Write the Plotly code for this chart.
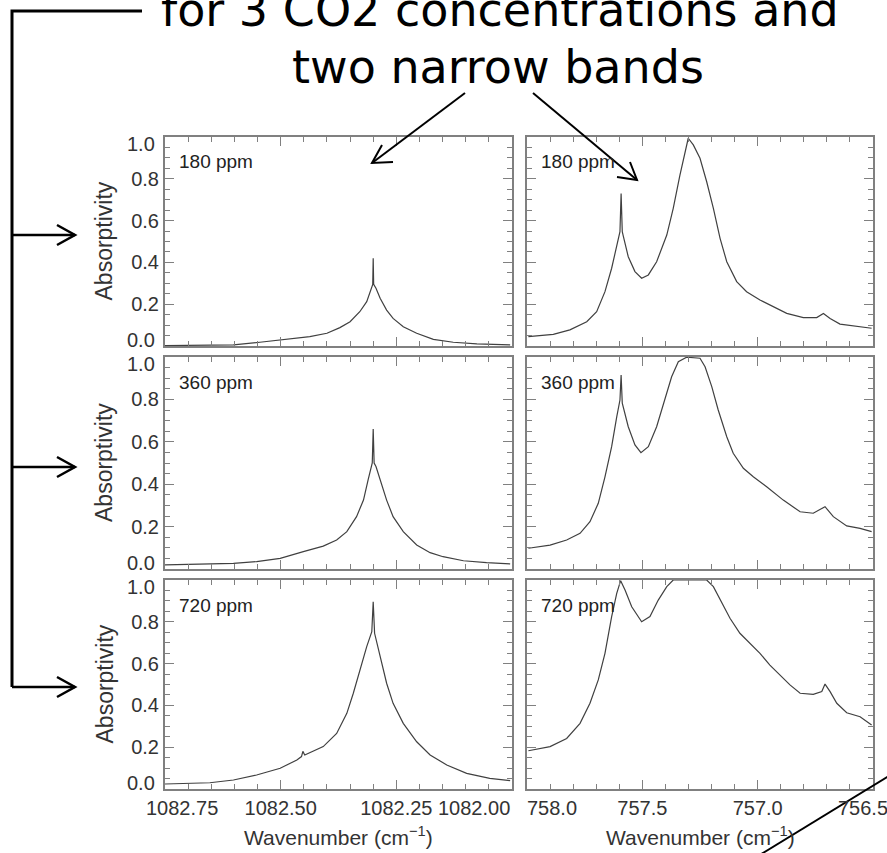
import plotly.graph_objects as go

W, H = 887, 853

# ---------------- data ----------------
wn_left_180 = [1082.75, 1082.602, 1082.545, 1082.473, 1082.437, 1082.40, 1082.372, 1082.350,
               1082.329, 1082.314, 1082.303, 1082.301, 1082.300, 1082.299, 1082.294, 1082.285,
               1082.271, 1082.257, 1082.235, 1082.206, 1082.170, 1082.127, 1082.076, 1082.004]
ab_left_180 = [0.002, 0.005, 0.018, 0.037, 0.045, 0.061, 0.088, 0.116,
               0.164, 0.212, 0.276, 0.295, 0.42, 0.295, 0.276, 0.228,
               0.172, 0.132, 0.092, 0.061, 0.032, 0.018, 0.010, 0.005]

wn_left_360 = [1082.75, 1082.602, 1082.552, 1082.501, 1082.451, 1082.408, 1082.379, 1082.357,
               1082.336, 1082.321, 1082.311, 1082.302, 1082.300, 1082.298, 1082.294, 1082.285,
               1082.271, 1082.257, 1082.235, 1082.206, 1082.177, 1082.149, 1082.105, 1082.055,
               1082.004]
ab_left_360 = [0.019, 0.027, 0.035, 0.050, 0.082, 0.108, 0.137, 0.176,
               0.247, 0.325, 0.42, 0.50, 0.66, 0.50, 0.483, 0.42,
               0.325, 0.247, 0.176, 0.113, 0.077, 0.058, 0.039, 0.030,
               0.024]

wn_left_720 = [1082.75, 1082.653, 1082.602, 1082.552, 1082.501, 1082.465, 1082.455, 1082.452,
               1082.448, 1082.408, 1082.379, 1082.357, 1082.343, 1082.329, 1082.314, 1082.303,
               1082.300, 1082.297, 1082.285, 1082.271, 1082.257, 1082.235, 1082.206, 1082.177,
               1082.141, 1082.098, 1082.048, 1082.004]
ab_left_720 = [0.024, 0.030, 0.043, 0.067, 0.099, 0.139, 0.155, 0.18,
               0.163, 0.203, 0.266, 0.362, 0.458, 0.569, 0.681, 0.753,
               0.896, 0.745, 0.633, 0.506, 0.41, 0.314, 0.226, 0.163,
               0.115, 0.075, 0.051, 0.04]

wn_right_180 = [757.994, 757.886, 757.814, 757.741, 757.698, 757.662, 757.633, 757.611, 757.597,
                757.592, 757.587, 757.582, 757.561, 757.532, 757.503, 757.474, 757.438, 757.394,
                757.366, 757.337, 757.301, 757.279, 757.25, 757.221, 757.192, 757.163, 757.134,
                757.091, 757.048, 756.99, 756.932, 756.874, 756.802, 756.744, 756.715, 756.686,
                756.643, 756.585, 756.506]
ab_right_180 = [0.045, 0.056, 0.077, 0.116, 0.164, 0.26, 0.372, 0.483, 0.547,
                0.73, 0.547, 0.523, 0.427, 0.356, 0.324, 0.34, 0.403, 0.531,
                0.659, 0.818, 0.994, 0.962, 0.898, 0.786, 0.659, 0.515, 0.403,
                0.308, 0.26, 0.22, 0.188, 0.156, 0.136, 0.136, 0.156, 0.132,
                0.105, 0.096, 0.085]

wn_right_360 = [757.994, 757.90, 757.828, 757.77, 757.727, 757.691, 757.662, 757.633, 757.611,
                757.597, 757.592, 757.587, 757.561, 757.532, 757.506, 757.474, 757.438, 757.402,
                757.373, 757.344, 757.308, 757.25, 757.228, 757.199, 757.171, 757.134, 757.106,
                757.062, 757.019, 756.961, 756.889, 756.816, 756.759, 756.708, 756.672, 756.614,
                756.556, 756.506]
ab_right_360 = [0.098, 0.113, 0.137, 0.168, 0.223, 0.31, 0.435, 0.577, 0.718,
                0.797, 0.915, 0.782, 0.671, 0.585, 0.549, 0.577, 0.671, 0.797,
                0.907, 0.978, 0.999, 0.994, 0.954, 0.86, 0.75, 0.624, 0.546,
                0.475, 0.435, 0.388, 0.325, 0.27, 0.263, 0.294, 0.247, 0.203,
                0.192, 0.176]

wn_right_720 = [757.994, 757.90, 757.828, 757.77, 757.727, 757.691, 757.662, 757.633, 757.611,
                757.594, 757.575, 757.546, 757.503, 757.467, 757.431, 757.394, 757.366, 757.221,
                757.192, 757.163, 757.12, 757.077, 757.033, 756.99, 756.947, 756.903, 756.86,
                756.816, 756.759, 756.722, 756.708, 756.686, 756.657, 756.614, 756.556, 756.506]
ab_right_720 = [0.183, 0.203, 0.242, 0.314, 0.41, 0.522, 0.649, 0.825, 0.936,
                0.997, 0.952, 0.872, 0.80, 0.825, 0.904, 0.968, 1.0, 1.0,
                0.968, 0.904, 0.817, 0.745, 0.697, 0.649, 0.593, 0.545, 0.498,
                0.458, 0.453, 0.466, 0.502, 0.466, 0.41, 0.365, 0.346, 0.306]

concentrations = ["180 ppm", "360 ppm", "720 ppm"]
left_ticks = [1082.75, 1082.50, 1082.25, 1082.00]
left_ticktext = ["1082.75", "1082.50", "1082.25", "1082.00"]
right_ticks = [758.0, 757.5, 757.0, 756.5]
right_ticktext = ["758.0", "757.5", "757.0", "756.5"]
y_ticks = [0.0, 0.2, 0.4, 0.6, 0.8, 1.0]
y_ticktext = ["0.0", "0.2", "0.4", "0.6", "0.8", "1.0"]

series = [
    (wn_left_180, ab_left_180, wn_right_180, ab_right_180),
    (wn_left_360, ab_left_360, wn_right_360, ab_right_360),
    (wn_left_720, ab_left_720, wn_right_720, ab_right_720),
]

# ---------------- layout geometry (pixels) ----------------
col_px = [(165, 512), (527, 873)]
row_px = [(137, 346), (357, 569), (580, 789)]


def fx(x):
    return x / W


def fy(y):
    return 1 - y / H


TXT = "Liberation Sans, Arial, sans-serif"
FRAME = "#808080"
LINE = "#404040"
TCOL = "#333333"

fig = go.Figure()
layout = dict(
    width=W, height=H, margin=dict(l=0, r=0, t=0, b=0),
    paper_bgcolor="white", plot_bgcolor="white", showlegend=False,
    font=dict(family=TXT, size=20, color=TCOL),
)
annotations = []
shapes = []

for r in range(3):
    for c in range(2):
        k = r * 2 + c + 1
        xa = "x" if k == 1 else f"x{k}"
        ya = "y" if k == 1 else f"y{k}"
        xkey = "xaxis" if k == 1 else f"xaxis{k}"
        ykey = "yaxis" if k == 1 else f"yaxis{k}"
        wn, ab = (series[r][0], series[r][1]) if c == 0 else (series[r][2], series[r][3])
        fig.add_trace(go.Scatter(x=wn, y=ab, mode="lines", xaxis=xa, yaxis=ya,
                                 line=dict(color=LINE, width=1.2), hoverinfo="skip"))
        x0, x1 = col_px[c]
        y0, y1 = row_px[r]
        if c == 0:
            xr = [left_ticks[0], left_ticks[-1]]
            tv, tt = left_ticks, left_ticktext
            minor_dt, tick0 = 0.05, 1082.0
        else:
            xr = [right_ticks[0], right_ticks[-1]]
            tv, tt = right_ticks, right_ticktext
            minor_dt, tick0 = 0.1, 756.5
        bottom = (r == 2)
        layout[xkey] = dict(
            domain=[fx(x0), fx(x1)], range=xr, anchor=ya, automargin=False,
            tickmode="array", tickvals=tv[1:3], ticktext=tt[1:3],
            showticklabels=bottom, ticks="inside", ticklen=9, tickwidth=1, tickcolor=FRAME,
            minor=dict(tickmode="linear", tick0=tick0, dtick=minor_dt, ticks="inside",
                       ticklen=5, tickwidth=1, tickcolor=FRAME),
            showline=True, linecolor=FRAME, linewidth=2, mirror="allticks",
            showgrid=False, zeroline=False, tickfont=dict(size=20, color=TCOL),
        )
        layout[ykey] = dict(
            domain=[fy(y1), fy(y0)], range=[0, 1.0], anchor=xa, automargin=False,
            tickmode="array", tickvals=y_ticks[1:5], ticktext=y_ticktext[1:5],
            showticklabels=(c == 0), ticks="inside", ticklen=9, tickwidth=1, tickcolor=FRAME,
            minor=dict(tickmode="linear", tick0=0, dtick=0.05, ticks="inside",
                       ticklen=5, tickwidth=1, tickcolor=FRAME),
            showline=True, linecolor=FRAME, linewidth=2, mirror="allticks",
            showgrid=False, zeroline=False, tickfont=dict(size=20, color=TCOL),
        )
        # concentration label inside panel
        annotations.append(dict(text=concentrations[r], xref=f"{xa} domain", yref=f"{ya} domain",
                                x=0, y=1, xshift=12, yshift=-25, xanchor="left", yanchor="middle",
                                showarrow=False, font=dict(size=19, color="#222222")))
        if c == 0:
            # end labels of the y axis, nudged inward as in the original
            annotations.append(dict(text=y_ticktext[-1], xref="paper", yref=ya, x=fx(157), y=1.0,
                                    yshift=-7, xanchor="right", yanchor="middle", showarrow=False,
                                    font=dict(size=20, color=TCOL)))
            annotations.append(dict(text=y_ticktext[0], xref="paper", yref=ya, x=fx(157), y=0.0,
                                    yshift=6, xanchor="right", yanchor="middle", showarrow=False,
                                    font=dict(size=20, color=TCOL)))
            annotations.append(dict(text="Absorptivity", xref="paper", yref=f"{ya} domain",
                                    x=fx(104), y=0.5, textangle=-90, xanchor="center",
                                    yanchor="middle", showarrow=False,
                                    font=dict(size=23, color=TCOL)))
        if bottom:
            shift_first, shift_last, anchor_last = (17, 0, "right") if c == 0 else (25, -10, "center")
            annotations.append(dict(text=tt[0], xref=xa, yref="paper", x=tv[0], y=fy(808),
                                    xshift=shift_first, xanchor="center", yanchor="middle",
                                    showarrow=False, font=dict(size=20, color=TCOL)))
            annotations.append(dict(text=tt[-1], xref=xa, yref="paper", x=tv[-1], y=fy(808),
                                    xshift=shift_last, xanchor=anchor_last, yanchor="middle",
                                    showarrow=False, font=dict(size=20, color=TCOL)))
            annotations.append(dict(text="Wavenumber (cm<sup>\u22121</sup>)", xref=f"{xa} domain",
                                    yref="paper", x=0.5, y=fy(836), xanchor="center",
                                    yanchor="middle", showarrow=False,
                                    font=dict(size=21, color=TCOL)))

# big slide text (its first line is cut by the top edge, as in the original)
TITLE_FONT = dict(family="DejaVu Sans, Verdana, sans-serif", size=46, color="black")
annotations.append(dict(text="for 3 CO2 concentrations and", xref="paper", yref="paper",
                        x=fx(500), y=fy(10), xanchor="center", yanchor="middle",
                        showarrow=False, font=TITLE_FONT))
annotations.append(dict(text="two narrow bands", xref="paper", yref="paper",
                        x=fx(498), y=fy(67), xanchor="center", yanchor="middle",
                        showarrow=False, font=TITLE_FONT))


def path(points):
    return "M " + " L ".join(f"{fx(x):.5f},{fy(y):.5f}" for x, y in points)


def add_path(points, width):
    shapes.append(dict(type="path", path=path(points), xref="paper", yref="paper",
                       line=dict(color="black", width=width)))


# bracket on the left
add_path([(142, 11), (12, 11), (12, 687)], 3)
for yy in (235, 467, 687):
    add_path([(12, yy), (75, yy)], 2.5)
    add_path([(57, yy - 10), (75, yy), (57, yy + 10)], 2.5)

# arrows from the text to the two bands
add_path([(465, 93), (372, 163)], 2)
add_path([(393, 162), (372, 163), (382, 145)], 2)
add_path([(533, 93), (637, 180)], 2)
add_path([(617, 177), (637, 180), (630, 162)], 2)
# diagonal line at the bottom right
add_path([(758, 856), (892, 774)], 2)

layout["annotations"] = annotations
layout["shapes"] = shapes
fig.update_layout(**layout)
fig.write_html("out.html", config={"displayModeBar": False, "staticPlot": True},
               post_script="document.body.style.margin='0';document.body.style.overflow='hidden';")
